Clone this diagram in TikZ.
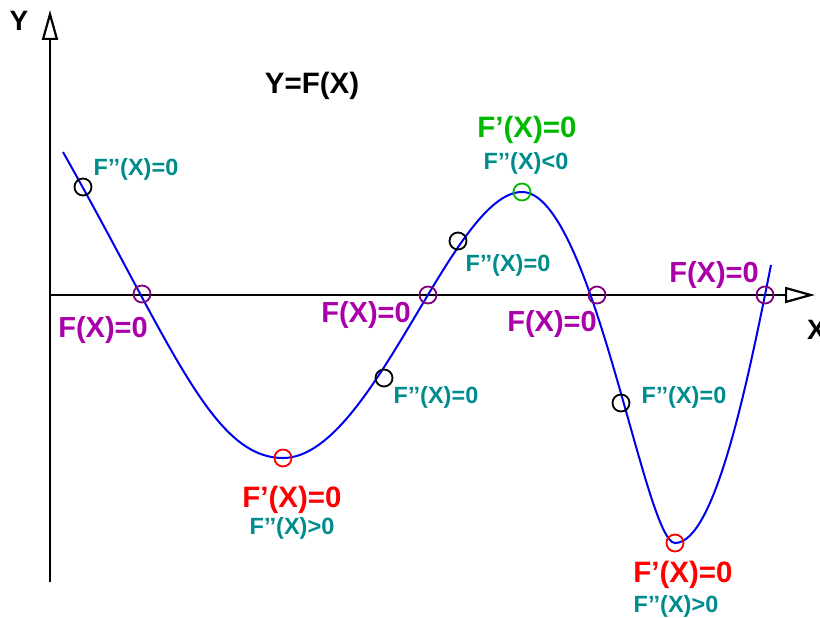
\documentclass[tikz,border=0pt]{standalone}
\usepackage{fontspec}
\newfontfamily\lab{Liberation Sans}
\usetikzlibrary{arrows.meta}
\definecolor{curveblue}{RGB}{0,0,240}
\definecolor{purpletxt}{RGB}{170,0,170}
\definecolor{purplecirc}{RGB}{128,0,128}
\definecolor{tealtxt}{RGB}{0,140,140}
\definecolor{greentxt}{RGB}{0,185,0}
\definecolor{redtxt}{RGB}{255,0,0}
\tikzset{
  axis/.style={line width=2.2pt, black, -{Triangle[open, length=30pt, width=16pt]}},
  curve/.style={line width=2pt, curveblue},
  mark circ/.style={circle, draw, line width=1.8pt, minimum size=17pt, inner sep=0pt},
  big/.style={font=\lab\bfseries\fontsize{29.5}{31}\selectfont, anchor=base, inner sep=0pt},
  small/.style={font=\lab\bfseries\fontsize{23.5}{25}\selectfont, anchor=base, inner sep=0pt, text=tealtxt},
  zero/.style={big, text=purpletxt, font=\lab\bfseries\fontsize{29}{30}\selectfont},
}
\begin{document}
\begin{tikzpicture}[x=1pt, y=-1pt]
\useasboundingbox (0,0) rectangle (820,618);
% axes
\coordinate (yb) at (50,582);
\coordinate (yt) at (50,10);
\coordinate (xl) at (50,295);
\coordinate (xr) at (815,295);
\draw[axis] (yb) -- (yt);
\draw[axis] (xl) -- (xr);
\node[big, font=\lab\bfseries\fontsize{28}{30}\selectfont] (ylab) at (19,31) {Y};
\node[big, anchor=base west, font=\lab\bfseries\fontsize{28}{30}\selectfont] (xlab) at (807,339) {X};
\node[big] (title) at (312,93) {Y=F(X)};
% curve
\draw[curve] (63,152) .. controls (172,345) and (212,458) .. (283,458)
  .. controls (373,458) and (452,192) .. (522,192)
  .. controls (592,192) and (645,543) .. (675,543)
  .. controls (715,543) and (747.5,382.6) .. (771,265);
% marks
\node[mark circ, black] (i1) at (83,187) {};
\node[mark circ, purplecirc] (z1) at (142,294) {};
\node[mark circ, redtxt] (m1) at (283,458) {};
\node[mark circ, black] (i2) at (384,378) {};
\node[mark circ, purplecirc] (z2) at (428,295) {};
\node[mark circ, black] (i3) at (458,241) {};
\node[mark circ, greentxt] (mx) at (522,192) {};
\node[mark circ, purplecirc] (z3) at (597,295) {};
\node[mark circ, black] (i4) at (621,403) {};
\node[mark circ, redtxt] (m2) at (675,543) {};
\node[mark circ, purplecirc] (z4) at (765,295) {};
% labels
\node[small] (li1) at (136,175) {F’’(X)=0};
\node[small] (li3) at (508,271) {F’’(X)=0};
\node[small] (li2) at (436,403) {F’’(X)=0};
\node[small] (li4) at (684,403) {F’’(X)=0};
\node[zero] (lz1) at (103,337) {F(X)=0};
\node[zero] (lz2) at (366,322) {F(X)=0};
\node[zero] (lz3) at (552,331) {F(X)=0};
\node[zero] (lz4) at (714,282) {F(X)=0};
\node[big, text=greentxt] (lmx) at (527,138) {F’(X)=0};
\node[small] (lmx2) at (526,169) {F’’(X)<0};
\node[big, text=redtxt] (lm1) at (292,507) {F’(X)=0};
\node[small] (lm1b) at (292,534) {F’’(X)>0};
\node[big, text=redtxt] (lm2) at (683,582) {F’(X)=0};
\node[small] (lm2b) at (676,612) {F’’(X)>0};
\end{tikzpicture}
\end{document}
